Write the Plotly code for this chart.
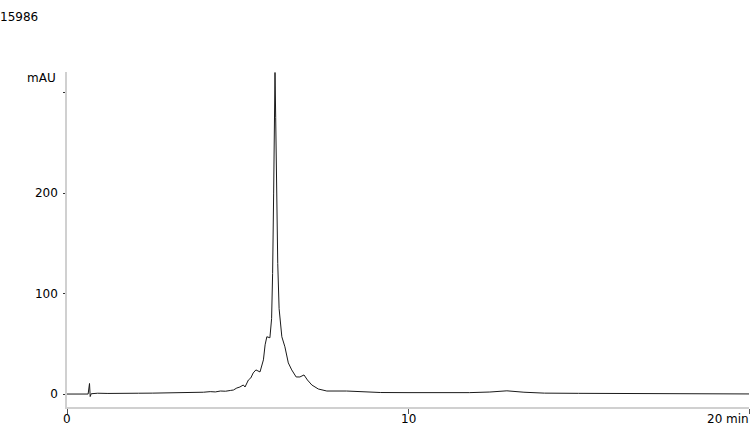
"""Chromatogram 15986: absorbance (mAU) against retention time (min)."""

import plotly.graph_objects as go

# retention time, minutes
time_min = [
    0.00, 0.30, 0.62, 0.66, 0.68, 0.71, 0.90, 1.20, 1.50, 1.80,
    2.10, 2.50, 2.90, 3.20, 3.40, 3.60, 3.80, 4.00, 4.20, 4.35,
    4.50, 4.65, 4.80, 4.88, 4.98, 5.07, 5.17, 5.22, 5.32, 5.39,
    5.46, 5.54, 5.60, 5.66, 5.76, 5.81, 5.86, 5.95, 6.00, 6.03,
    6.06, 6.08, 6.10, 6.12, 6.15, 6.18, 6.22, 6.27, 6.30, 6.39,
    6.49, 6.59, 6.72, 6.83, 6.95, 7.05, 7.18, 7.37, 7.62, 8.20,
    9.20, 10.0, 11.0, 11.8, 12.4, 12.9, 13.4, 14.0, 15.0, 16.0,
    18.0, 20.0,
]

# detector signal, mAU
signal_mau = [
    0.0, 0.0, 0.0, 10.5, -2.5, 0.3, 0.8, 0.6, 0.9, 0.7,
    0.8, 0.9, 1.0, 1.1, 1.6, 1.3, 1.9, 1.8, 2.4, 2.1,
    3.0, 2.8, 3.6, 4.0, 6.0, 7.0, 9.0, 7.0, 14.0, 16.0,
    21.0, 24.0, 23.0, 22.0, 34.0, 49.0, 57.0, 56.0, 75.0, 120.0,
    200.0, 270.0, 320.0, 275.0, 200.0, 130.0, 85.0, 70.0, 57.0, 47.0,
    31.0, 24.0, 17.0, 17.0, 19.0, 14.0, 9.0, 5.0, 3.0, 3.0,
    1.5, 1.4, 1.3, 1.4, 2.0, 3.2, 1.8, 0.9, 0.7, 0.5,
    0.3, 0.1,
]

x_ticks = [0, 10, 20]
x_tick_text = ["0", "10", "20 min"]
y_ticks = [0, 100, 200, 300]
y_tick_text = ["0", "100", "200", ""]

FONT = "DejaVu Sans"

fig = go.Figure()
fig.add_trace(go.Scatter(
    x=time_min, y=signal_mau, mode="lines",
    line=dict(color="#1a1a1a", width=1),
    cliponaxis=False, showlegend=False,
))

fig.update_xaxes(
    range=[0, 20], tickvals=x_ticks, showticklabels=False,
    showgrid=False, zeroline=False, showline=True, linecolor="#d0d0d0", linewidth=1.5,
    ticks="outside", ticklen=5, tickcolor="#555555", tickwidth=1,
)
fig.update_yaxes(
    range=[-12.9, 320.5], tickvals=y_ticks, ticktext=y_tick_text,
    showgrid=False, zeroline=False, showline=True, linecolor="#d0d0d0", linewidth=1.5,
    ticks="outside", ticklen=2, tickcolor="#333333", tickwidth=1,
    ticklabelstandoff=3,
    tickfont=dict(family=FONT, size=12, color="#000000"),
)

# x tick labels sit tight under the axis; the last one is right-aligned to its tick
for val, label in zip(x_ticks, x_tick_text):
    is_last = val == x_ticks[-1]
    fig.add_annotation(
        text=label, xref="x", x=val,
        xanchor="right" if is_last else "center", xshift=2 if is_last else 0,
        yref="paper", y=0, yshift=-12, yanchor="middle", showarrow=False,
        font=dict(family=FONT, size=12, color="#000000"),
    )

fig.add_annotation(
    text="mAU", xref="paper", x=0, xshift=-9, xanchor="right",
    yref="y", y=315, yanchor="middle", showarrow=False,
    font=dict(family=FONT, size=12, color="#000000"),
)

fig.update_layout(
    width=750, height=426,
    margin=dict(l=67, r=1, t=72, b=19, autoexpand=False),
    paper_bgcolor="white", plot_bgcolor="white",
    title=dict(
        text="15986", x=0, xref="container", xanchor="left",
        y=1 - 17 / 426, yref="container", yanchor="middle",
        pad=dict(l=0, t=0, b=0, r=0),
        font=dict(family=FONT, size=12, color="#000000"),
    ),
)

# the browser's default 8px body margin would shift the fixed-size figure
fig.write_html(
    "out.html",
    config={"displayModeBar": False},
    post_script="document.body.style.margin = '0';",
)
